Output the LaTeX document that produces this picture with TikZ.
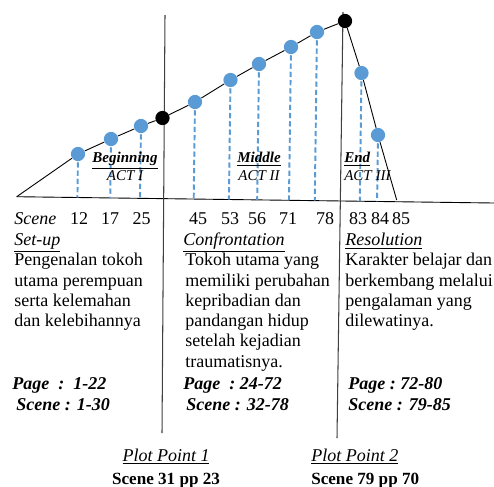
\documentclass[tikz,border=0pt]{standalone}
\usepackage{fontspec}
\setmainfont{Liberation Serif}
\usepackage{xcolor}
\definecolor{dotblue}{RGB}{91,155,213}
\usetikzlibrary{calc,backgrounds}

\begin{document}
\begin{tikzpicture}[
  x=0.6667pt, y=-0.6667pt,
  bdot/.style={circle, fill=dotblue, minimum size=9.5pt, inner sep=0pt},
  kdot/.style={circle, fill=black, minimum size=9.5pt, inner sep=0pt},
  dline/.style={draw=dotblue, line width=1.3pt, dash pattern=on 3.5pt off 2pt},
  aline/.style={draw=black, line width=0.6pt},
  vline/.style={draw=black!75, line width=0.7pt},
  num/.style={font=\fontsize{12}{13.5}\selectfont, inner sep=0pt, anchor=base},
  head/.style={font=\fontsize{12}{13.5}\selectfont\itshape, inner sep=0pt, anchor=base west},
  txt/.style={font=\fontsize{12}{13.5}\selectfont, inner sep=0pt, align=left, anchor=north west},
  act/.style={font=\fontsize{10}{12}\selectfont\itshape, inner sep=0pt, align=center},
  pg/.style={font=\fontsize{12}{13.5}\selectfont\bfseries\itshape, inner sep=0pt, anchor=base west},
  pp/.style={font=\fontsize{12}{14}\selectfont, inner sep=0pt},
  ppb/.style={font=\fontsize{11.4}{14}\selectfont\bfseries, inner sep=0pt}
]
\useasboundingbox (0,0) rectangle (494,486);

% scene points
\foreach \n/\x/\y in {1/78/154, 2/111/139, 3/141/126, 4/195/102, 5/230.5/80,
                      6/259/64, 7/291/47, 8/317/32, 9/361.5/73, 10/378/135}{
  \node[bdot] (d\n) at (\x,\y) {};
}

% plot points
\node[kdot] (pp1) at (162.5,118) {};
\node[kdot] (pp2) at (345,21) {};

% ends of the lines
\coordinate (b0) at (16.7,196.7);
\coordinate (b1) at (494,203);
\coordinate (e85) at (396.7,200);
\coordinate (v1a) at (165,15);
\coordinate (v1b) at (162,433);
\coordinate (v2a) at (343,12);
\coordinate (v2b) at (337,438);

\begin{scope}[on background layer]
  \draw[aline] (b0) -- (b1);
  \draw[aline] (b0) -- (d1) -- (d2) -- (d3) -- (pp1) -- (d4) -- (d5) -- (d6)
               -- (d7) -- (d8) -- (pp2) -- (d9) -- (d10) -- (e85);
  \draw[vline] (v1a) -- (v1b);
  \draw[vline] (v2a) -- (v2b);
  \foreach \n in {1,...,10}{
    \draw[dline] (d\n.center) -- ($(b0)!(d\n.center)!(b1)$);
  }
\end{scope}

% acts
\node[act] (beg) at (125,166.5) {\underline{\textbf{Beginning}}\\ACT I};
\node[act] (mid) at (259,166.5) {\underline{\textbf{Middle}}\\ACT II};
\node[act, align=left, anchor=west] (fin) at (344,166.5) {\underline{\textbf{End}}\\ACT III};

% scene numbers
\node[head] (scn) at (14,224) {Scene};
\foreach \v/\x in {12/79, 17/110, 25/141.5, 45/198, 53/230, 56/257, 71/288,
                   78/325, 83/358, 84/380, 85/401}{
  \node[num] (s\v) at (\x,224) {\v};
}

% set-up
\node[head] (setup) at (14,245.5) {\underline{Set-up}};
\node[txt] (para1) at (14,253) {Pengenalan tokoh\\utama perempuan\\serta kelemahan\\dan kelebihannya};
\node[pg] (page1) at (12,389) {Page~~:~~1-22};
\node[pg] (scene1) at (16,410) {Scene : 1-30};

% confrontation
\node[head] (conf) at (183,245.5) {\underline{Confrontation}};
\node[txt] (para2) at (185,253) {Tokoh utama yang\\memiliki perubahan\\kepribadian dan\\pandangan hidup\\setelah kejadian\\traumatisnya.};
\node[pg] (page2) at (183,389) {Page~~:~24-72};
\node[pg] (scene2) at (186,410) {Scene : 32-78};

% resolution
\node[head] (reso) at (345,245.5) {\underline{Resolution}};
\node[txt] (para3) at (345,253) {Karakter belajar dan\\berkembang melalui\\pengalaman yang\\dilewatinya.};
\node[pg] (page3) at (348,389) {Page :~72-80};
\node[pg] (scene3) at (348,410) {Scene : 79-85};

% plot point labels
\node[pp, anchor=base] (plt1) at (166,461) {\underline{\textit{Plot Point 1}}};
\node[ppb, anchor=base] (sc31) at (166,484) {Scene 31 pp 23};
\node[pp, anchor=base west] (plt2) at (311,461) {\underline{\textit{Plot Point 2}}};
\node[ppb, anchor=base west] (sc79) at (311,484) {Scene 79 pp 70};

\end{tikzpicture}
\end{document}
